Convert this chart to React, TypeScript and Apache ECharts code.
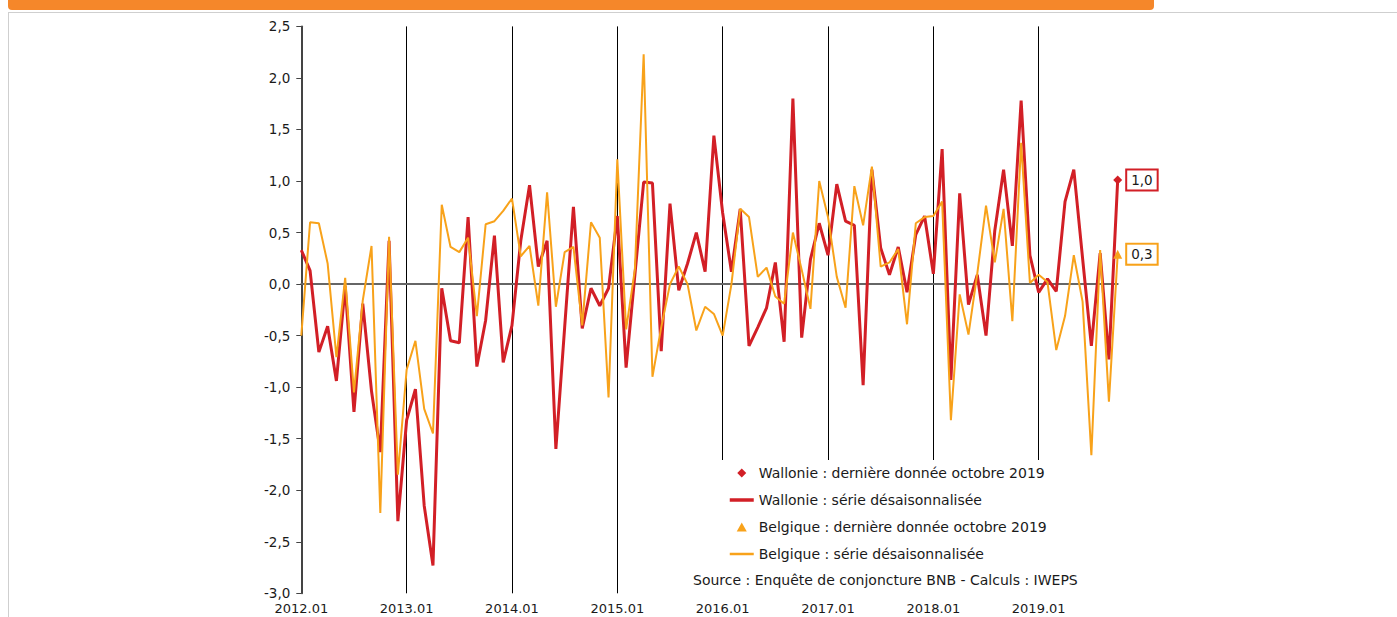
import React, { useEffect, useRef } from "react";
import * as echarts from "echarts";

const YEARS = [2012, 2013, 2014, 2015, 2016, 2017, 2018, 2019];
const LAST_MONTH_2019 = 10;
const categories: string[] = [];
YEARS.forEach((y) => {
  for (let m = 1; m <= 12; m++) {
    if (y === 2019 && m > LAST_MONTH_2019) break;
    categories.push(`${y}.${m < 10 ? "0" + m : m}`);
  }
});

// Wallonie : série désaisonnalisée
const wallonie = [
  0.33, 0.13, -0.66, -0.41, -0.94, -0.02, -1.24, -0.19, -1.04, -1.63, 0.42, -2.3,
  -1.32, -1.02, -2.15, -2.73, -0.04, -0.55, -0.57, 0.65, -0.8, -0.35, 0.47, -0.76,
  -0.4, 0.42, 0.96, 0.17, 0.42, -1.6, -0.42, 0.75, -0.43, -0.04, -0.21, -0.04,
  0.66, -0.81, 0.09, 0.99, 0.98, -0.65, 0.78, -0.06, 0.2, 0.5, 0.12, 1.44,
  0.69, 0.12, 0.73, -0.6, -0.42, -0.23, 0.21, -0.56, 1.8, -0.52, 0.24, 0.59,
  0.28, 0.97, 0.61, 0.57, -0.98, 1.11, 0.35, 0.09, 0.36, -0.08, 0.48, 0.66,
  0.1, 1.31, -0.93, 0.88, -0.2, 0.09, -0.5, 0.52, 1.11, 0.37, 1.78, 0.28,
  -0.08, 0.05, -0.07, 0.8, 1.11, 0.25, -0.6, 0.3, -0.73, 1.01,
];

// Belgique : série désaisonnalisée
const belgique = [
  -0.5, 0.6, 0.59, 0.2, -0.71, 0.06, -1.05, -0.16, 0.37, -2.22, 0.46, -1.85,
  -0.83, -0.55, -1.21, -1.45, 0.77, 0.36, 0.31, 0.45, -0.31, 0.58, 0.61, 0.71,
  0.83, 0.27, 0.37, -0.21, 0.89, -0.22, 0.31, 0.36, -0.4, 0.6, 0.45, -1.1,
  1.21, -0.44, 0.14, 2.23, -0.9, -0.42, 0.0, 0.17, 0.0, -0.45, -0.22, -0.29,
  -0.5, 0.0, 0.73, 0.65, 0.07, 0.16, -0.12, -0.19, 0.5, 0.14, -0.24, 1.0,
  0.65, 0.07, -0.23, 0.95, 0.57, 1.14, 0.17, 0.21, 0.34, -0.39, 0.59, 0.65,
  0.66, 0.8, -1.32, -0.1, -0.49, 0.1, 0.76, 0.21, 0.73, -0.36, 1.37, 0.01,
  0.09, 0.02, -0.64, -0.31, 0.28, -0.17, -1.66, 0.33, -1.14, 0.29,
];

const Y_MIN = -3;
const Y_MAX = 2.5;
const Y_STEP = 0.5;

const W_LAST = "Wallonie : dernière donnée octobre 2019";
const W_LINE = "Wallonie : série désaisonnalisée";
const B_LAST = "Belgique : dernière donnée octobre 2019";
const B_LINE = "Belgique : série désaisonnalisée";
const SOURCE = "Source : Enquête de conjoncture BNB - Calculs : IWEPS";

const RED = "#D21F26";
const ORANGE = "#F8A21A";
const FONT = "'DejaVu Sans', sans-serif";
const TXT = "#1a1a1a";

const DIAMOND_ICON = "path://M5,0L10,5L5,10L0,5Z";
const TRIANGLE_ICON = "path://M5,0L10,9L0,9Z";

const fmt = (v: number) => v.toFixed(1).replace(".", ",");

export default function App() {
  const ref = useRef<HTMLDivElement>(null);
  useEffect(() => {
    if (!ref.current) return;
    const chart = echarts.init(ref.current, null, { renderer: "svg" });
    const lastIdx = categories.length - 1;
    const labelBox = (color: string) => ({
      show: true,
      position: "right",
      distance: 5,
      formatter: (p: any) => fmt(p.value[1]),
      color: TXT,
      fontSize: 13.5,
      fontFamily: FONT,
      lineHeight: 14,
      borderColor: color,
      borderWidth: 2,
      padding: [3, 4, 2, 4],
      backgroundColor: "#fff",
    });
    chart.setOption({
      animation: false,
      backgroundColor: "#fff",
      textStyle: { fontFamily: FONT },
      grid: { left: 301.3, right: 279.3, top: 26.4, bottom: 23.7, containLabel: false },
      xAxis: [
        {
          type: "category",
          data: categories,
          boundaryGap: false,
          position: "bottom",
          axisLine: { show: false, onZero: false },
          axisTick: { show: false },
          axisLabel: {
            interval: (i: number) => i % 12 === 0,
            margin: 9,
            fontSize: 13,
            color: TXT,
            fontFamily: FONT,
          },
          splitLine: {
            show: true,
            interval: (i: number) => i % 12 === 0 && i > 0,
            lineStyle: { color: "#000", width: 1 },
          },
        },
        {
          type: "category",
          data: categories,
          boundaryGap: false,
          position: "bottom",
          axisLine: { show: true, onZero: true, lineStyle: { color: "#666", width: 2 } },
          axisTick: { show: false },
          axisLabel: { show: false },
          splitLine: { show: false },
        },
      ],
      yAxis: {
        type: "value",
        min: Y_MIN,
        max: Y_MAX,
        interval: Y_STEP,
        axisLine: { show: true, lineStyle: { color: "#444", width: 2 } },
        axisTick: { show: true, length: 5, lineStyle: { color: "#444", width: 1 } },
        axisLabel: {
          formatter: (v: number) => fmt(v),
          margin: 11,
          fontSize: 13.5,
          color: TXT,
          fontFamily: FONT,
        },
        splitLine: { show: false },
      },
      legend: {
        orient: "vertical",
        left: 723,
        top: 460,
        itemWidth: 24,
        itemHeight: 9,
        itemGap: 11,
        symbolKeepAspect: true,
        selectedMode: false,
        z: 20,
        textStyle: { fontSize: 14, color: TXT, lineHeight: 16, fontFamily: FONT },
        data: [
          { name: W_LAST, icon: DIAMOND_ICON },
          { name: W_LINE, itemStyle: { opacity: 0 }, lineStyle: { width: 3.5, color: RED } },
          { name: B_LAST, icon: TRIANGLE_ICON },
          { name: B_LINE, itemStyle: { opacity: 0 }, lineStyle: { width: 2.5, color: ORANGE } },
        ],
      },
      graphic: [
        {
          type: "rect",
          z: 10,
          shape: { x: 690, y: 460, width: 410, height: 140 },
          style: { fill: "#fff" },
        },
        {
          type: "text",
          z: 21,
          x: 693,
          y: 573,
          style: { text: SOURCE, fontSize: 14, fill: TXT, fontFamily: FONT },
        },
        {
          type: "line",
          z: 1,
          shape: { x1: 8, y1: 12.5, x2: 1397, y2: 12.5 },
          style: { stroke: "#cfcfcf", lineWidth: 1 },
        },
        {
          type: "line",
          z: 1,
          shape: { x1: 8.5, y1: 12, x2: 8.5, y2: 617 },
          style: { stroke: "#cfcfcf", lineWidth: 1 },
        },
        {
          type: "rect",
          z: 2,
          shape: { x: 8, y: -5, width: 1146, height: 15, r: 4 },
          style: { fill: "#F5872A" },
        },
      ],
      series: [
        {
          name: W_LINE,
          type: "line",
          data: wallonie,
          symbol: "none",
          lineStyle: { color: RED, width: 3 },
          itemStyle: { color: RED },
          z: 2,
        },
        {
          name: B_LINE,
          type: "line",
          data: belgique,
          symbol: "none",
          lineStyle: { color: ORANGE, width: 2 },
          itemStyle: { color: ORANGE },
          z: 3,
        },
        {
          name: W_LAST,
          type: "scatter",
          data: [[categories[lastIdx], wallonie[lastIdx]]],
          symbol: "diamond",
          symbolSize: 9,
          itemStyle: { color: RED, opacity: 1 },
          label: labelBox(RED),
          z: 4,
        },
        {
          name: B_LAST,
          type: "scatter",
          data: [[categories[lastIdx], belgique[lastIdx]]],
          symbol: "triangle",
          symbolSize: 9,
          itemStyle: { color: ORANGE, opacity: 1 },
          label: labelBox(ORANGE),
          z: 4,
        },
      ],
    });
    return () => chart.dispose();
  }, []);
  return (
    <div
      ref={ref}
      style={{ position: "absolute", left: 0, top: 0, width: 1397, height: 617 }}
    />
  );
}
